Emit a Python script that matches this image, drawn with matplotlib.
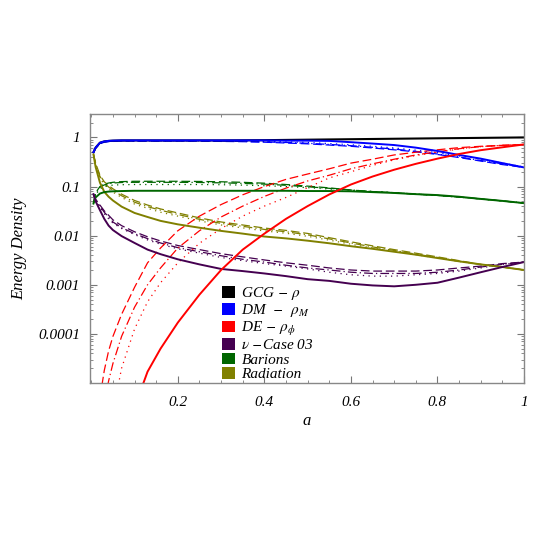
import numpy as np
import matplotlib
matplotlib.use("Agg")
import matplotlib.pyplot as plt
from matplotlib.patches import Patch
from matplotlib.ticker import FixedLocator, FuncFormatter, LogLocator, MultipleLocator

plt.rcParams['font.family'] = ['Liberation Serif', 'DejaVu Serif']
plt.rcParams['font.style'] = 'italic'
plt.rcParams['mathtext.fontset'] = 'stix'

nan = np.nan

# scale factor grid
a = [0.005, 0.01, 0.02, 0.03, 0.04, 0.05, 0.07, 0.1, 0.13, 0.16, 0.2, 0.25, 0.3, 0.35,
     0.4, 0.45, 0.5, 0.55, 0.6, 0.65, 0.7, 0.75, 0.8, 0.85, 0.9, 0.95, 1.0]

# GCG total density
gcg = [0.5, 0.62, 0.78, 0.83, 0.85, 0.86, 0.87, 0.87, 0.87, 0.87, 0.87, 0.87, 0.87, 0.875,
       0.88, 0.89, 0.9, 0.91, 0.92, 0.93, 0.94, 0.95, 0.96, 0.97, 0.98, 0.99, 1.0]

# dark matter, one list per line style
dm_solid = [0.5, 0.62, 0.78, 0.83, 0.85, 0.86, 0.87, 0.87, 0.87, 0.87, 0.87, 0.87, 0.87, 0.87,
            0.87, 0.86, 0.86, 0.85, 0.8, 0.75, 0.7, 0.62, 0.53, 0.44, 0.37, 0.3, 0.245]
dm_dash = [0.48, 0.6, 0.74, 0.8, 0.82, 0.83, 0.84, 0.84, 0.84, 0.84, 0.84, 0.84, 0.83, 0.82,
           0.8, 0.77, 0.74, 0.7, 0.66, 0.61, 0.56, 0.51, 0.45, 0.39, 0.33, 0.28, 0.245]
dm_dashdot = [0.49, 0.61, 0.76, 0.81, 0.83, 0.84, 0.85, 0.85, 0.85, 0.85, 0.85, 0.85, 0.84, 0.83,
              0.81, 0.79, 0.76, 0.72, 0.68, 0.63, 0.58, 0.52, 0.46, 0.4, 0.34, 0.29, 0.25]
dm_dot = [0.5, 0.61, 0.76, 0.82, 0.84, 0.85, 0.86, 0.86, 0.86, 0.86, 0.86, 0.86, 0.86, 0.85,
          0.83, 0.81, 0.79, 0.75, 0.71, 0.66, 0.61, 0.55, 0.49, 0.42, 0.36, 0.3, 0.25]

# dark energy
de_solid = [nan, nan, nan, nan, nan, nan, nan, 3.2e-6, 1.7e-5, 5e-5, 1.7e-4, 6.3e-4, 2e-3, 5.2e-3,
            0.011, 0.022, 0.04, 0.069, 0.11, 0.16, 0.22, 0.29, 0.37, 0.46, 0.55, 0.63, 0.72]
de_dash = [nan, nan, 5e-6, 1.8e-5, 4.5e-5, 8.9e-5, 2.5e-4, 8.9e-4, 2.8e-3, 5.6e-3, 0.0126, 0.025,
           0.043, 0.068, 0.1, 0.14, 0.18, 0.23, 0.3, 0.36, 0.44, 0.5, 0.56, 0.62, 0.66, 0.69, 0.72]
de_dashdot = [nan, nan, nan, 4e-6, 1.1e-5, 2.5e-5, 8.9e-5, 3.5e-4, 1e-3, 2.2e-3, 5.6e-3, 0.0126,
              0.024, 0.04, 0.063, 0.093, 0.13, 0.17, 0.23, 0.29, 0.36, 0.44, 0.51, 0.59, 0.65,
              0.69, 0.72]
de_dot = [nan, nan, nan, nan, nan, 2.5e-6, 2e-5, 1.26e-4, 4.5e-4, 1.1e-3, 2.8e-3, 7e-3, 0.014,
          0.025, 0.04, 0.06, 0.095, 0.15, 0.2, 0.27, 0.35, 0.43, 0.5, 0.58, 0.65, 0.69, 0.72]

# nu - case 03
nu_solid = [0.07, 0.05, 0.033, 0.022, 0.016, 0.013, 0.0098, 0.0071, 0.0052, 0.0042, 0.0033,
            0.0026, 0.0021, 0.0019, 0.0017, 0.0015, 0.0013, 0.0012, 0.00105, 0.00097, 0.00093,
            0.001, 0.0011, 0.0014, 0.0018, 0.0023, 0.0029]
nu_dash = [0.07, 0.055, 0.042, 0.032, 0.026, 0.021, 0.016, 0.012, 0.0095, 0.0078, 0.0063, 0.0052,
           0.0043, 0.0037, 0.0032, 0.0028, 0.0025, 0.0022, 0.002, 0.0019, 0.0019, 0.0019, 0.002,
           0.0022, 0.0024, 0.0027, 0.0029]
nu_dashdot = [0.07, 0.054, 0.04, 0.03, 0.024, 0.019, 0.0145, 0.011, 0.0087, 0.0071, 0.0057,
              0.0047, 0.0039, 0.0033, 0.0029, 0.0025, 0.0022, 0.002, 0.0018, 0.0017, 0.0017,
              0.0017, 0.0018, 0.002, 0.0023, 0.0026, 0.0029]
nu_dot = [0.07, 0.052, 0.038, 0.028, 0.022, 0.018, 0.014, 0.0105, 0.0082, 0.0067, 0.0054, 0.0044,
          0.0036, 0.0031, 0.0027, 0.0024, 0.0021, 0.0018, 0.0016, 0.0015, 0.0015, 0.0016, 0.0017,
          0.0019, 0.0022, 0.0026, 0.0029]

# baryons
b_solid = [0.045, 0.06, 0.072, 0.077, 0.079, 0.08, 0.081, 0.082, 0.082, 0.082, 0.082, 0.082,
           0.082, 0.082, 0.082, 0.082, 0.081, 0.081, 0.08, 0.077, 0.074, 0.07, 0.067, 0.062,
           0.056, 0.051, 0.046]
b_dash = [0.047, 0.075, 0.1, 0.112, 0.118, 0.122, 0.126, 0.128, 0.128, 0.128, 0.128, 0.127, 0.125,
          0.122, 0.117, 0.11, 0.102, 0.094, 0.085, 0.079, 0.075, 0.07, 0.066, 0.061, 0.056,
          0.051, 0.046]
b_dashdot = [0.047, 0.072, 0.097, 0.108, 0.114, 0.118, 0.121, 0.122, 0.122, 0.122, 0.122, 0.121,
             0.119, 0.116, 0.112, 0.106, 0.099, 0.092, 0.085, 0.079, 0.075, 0.07, 0.066, 0.061,
             0.056, 0.051, 0.046]
b_dot = [0.046, 0.068, 0.09, 0.1, 0.104, 0.107, 0.109, 0.11, 0.11, 0.11, 0.11, 0.11, 0.109, 0.107,
         0.104, 0.1, 0.095, 0.089, 0.084, 0.079, 0.075, 0.07, 0.066, 0.061, 0.056, 0.051, 0.046]

# radiation
r_solid = [0.45, 0.25, 0.12, 0.078, 0.062, 0.052, 0.039, 0.029, 0.024, 0.02, 0.017, 0.0145,
           0.0125, 0.011, 0.0096, 0.0088, 0.0079, 0.007, 0.0061, 0.0054, 0.0047, 0.0041, 0.0035,
           0.003, 0.0026, 0.0023, 0.002]
r_dash = [0.45, 0.3, 0.17, 0.125, 0.105, 0.09, 0.07, 0.052, 0.042, 0.035, 0.029, 0.023, 0.019,
          0.0165, 0.0143, 0.0128, 0.0111, 0.0091, 0.0075, 0.0062, 0.0052, 0.0044, 0.0037,
          0.0031, 0.0026, 0.0023, 0.002]
r_dashdot = [0.45, 0.29, 0.16, 0.118, 0.098, 0.084, 0.065, 0.048, 0.039, 0.033, 0.027, 0.0215,
             0.0178, 0.0155, 0.0134, 0.012, 0.0104, 0.0086, 0.0071, 0.0059, 0.005, 0.0042,
             0.0036, 0.003, 0.0026, 0.0023, 0.002]
r_dot = [0.45, 0.28, 0.15, 0.11, 0.09, 0.077, 0.06, 0.044, 0.036, 0.03, 0.025, 0.02, 0.0165,
         0.0144, 0.0125, 0.0112, 0.0097, 0.0081, 0.0067, 0.0056, 0.0048, 0.0041, 0.0035, 0.003,
         0.0026, 0.0023, 0.002]

labels = ['GCG $-$ $\\rho$', 'DM  $-$  $\\rho_M$', 'DE $-$ $\\rho_\\phi$',
          '$\\nu$ $-$Case 03', 'Barions', 'Radiation']
colors = ['#000000', '#0000ff', '#ff0000', '#450050', '#006600', '#808000']

dash_styles = [(0, (7, 3)), (0, (7, 2.5, 1, 2.5)), (0, (1, 3.5))]

fig = plt.figure(figsize=(5.45, 5.45), dpi=100)
ax = fig.add_axes([90 / 545, 1 - 383 / 545, 434 / 545, 269 / 545])
ax.set_yscale('log')

groups = [
    (colors[1], [dm_dash, dm_dashdot, dm_dot], dm_solid),
    (colors[5], [r_dash, r_dashdot, r_dot], r_solid),
    (colors[4], [b_dash, b_dashdot, b_dot], b_solid),
    (colors[3], [nu_dash, nu_dashdot, nu_dot], nu_solid),
    (colors[2], [de_dash, de_dashdot, de_dot], de_solid),
]

# broken-line variants first, solid curves on top
for col, variants, solid in groups:
    for vals, ls in zip(variants, dash_styles):
        ax.plot(a, vals, color=col, lw=0.9, linestyle=ls)

ax.plot(a, gcg, color=colors[0], lw=1.5)
for col, variants, solid in groups:
    ax.plot(a, solid, color=col, lw=1.4)

ax.set_xlim(-0.003, 1.0)
ax.set_ylim(1e-5, 3.0)

ax.xaxis.set_major_locator(FixedLocator([0.2, 0.4, 0.6, 0.8, 1.0]))
ax.xaxis.set_minor_locator(MultipleLocator(0.05))
ax.xaxis.set_major_formatter(FuncFormatter(lambda v, p: '1' if abs(v - 1) < 1e-9 else '%.1f' % v))

ytick_vals = [1e-4, 1e-3, 1e-2, 1e-1, 1]
ytick_text = ['0.0001', '0.001', '0.01', '0.1', '1']
ax.yaxis.set_major_locator(FixedLocator(ytick_vals))
ax.yaxis.set_major_formatter(FuncFormatter(lambda v, p: ytick_text[p] if p is not None and p < len(ytick_text) else ''))
ax.yaxis.set_minor_locator(LogLocator(base=10, subs=np.arange(2, 10), numticks=20))
ax.yaxis.set_minor_formatter(FuncFormatter(lambda v, p: ''))

ax.tick_params(which='both', direction='in', top=True, right=True, color='#777777',
               labelsize=11, labelcolor='black')
ax.tick_params(which='major', length=5, width=0.8)
ax.tick_params(which='minor', length=2.5, width=0.6)
ax.tick_params(axis='x', pad=9)
ax.tick_params(axis='y', pad=7)
for s in ax.spines.values():
    s.set_color('#888888')
    s.set_linewidth(1.0)

ax.set_xlabel('a', fontsize=12, labelpad=3)
ax.set_ylabel('Energy Density', fontsize=12, labelpad=8)

handles = [Patch(facecolor=c, edgecolor='none') for c in colors]
ax.legend(handles, labels, loc='upper left', bbox_to_anchor=(0.296, 0.375), frameon=False,
          fontsize=11, handlelength=0.85, handleheight=0.8, handletextpad=0.45,
          labelspacing=0.02, borderpad=0.2, borderaxespad=0)

fig.savefig('out.png', dpi=100)
